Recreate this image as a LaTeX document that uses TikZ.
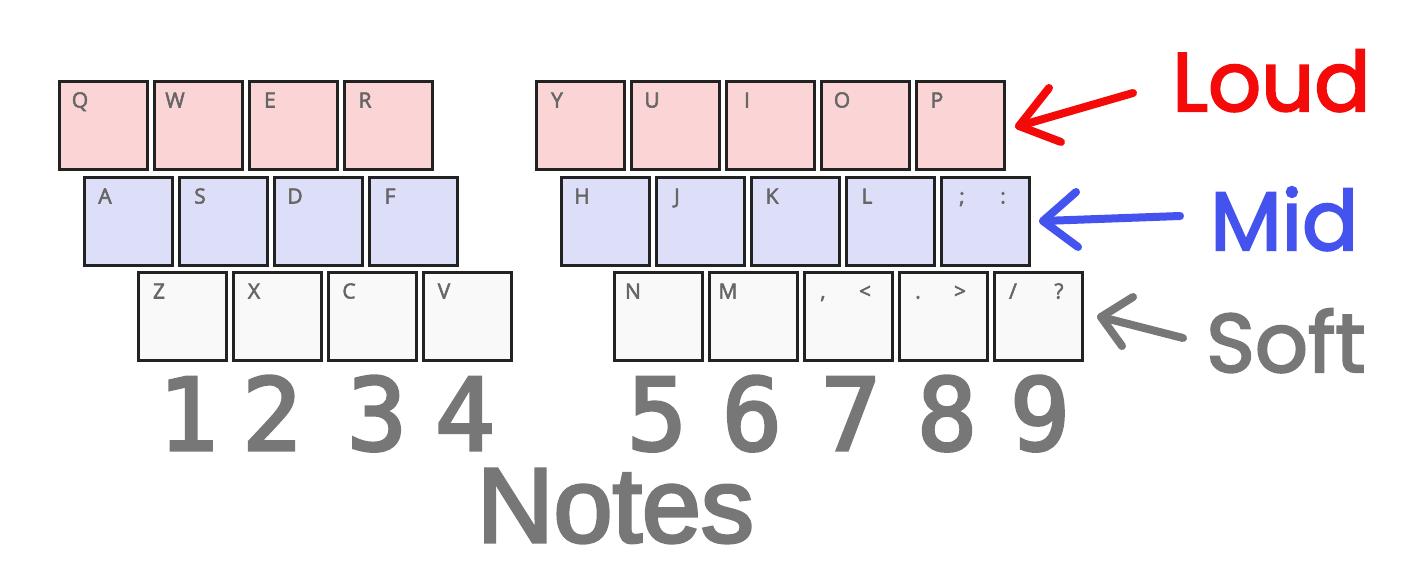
\documentclass[tikz,border=0pt]{standalone}
\usepackage{fontspec}
\newfontfamily\keyfont{Open Sans}[FakeBold=2.5]
\newfontfamily\popfont{Poppins}[FakeBold=2.5]
\newfontfamily\digitfont{DejaVu Sans Mono}[FakeBold=3]
\newfontfamily\notefont{Liberation Sans}[FakeBold=3]
\definecolor{loudfill}{HTML}{FBD5D6}
\definecolor{midfill}{HTML}{DDDFF9}
\definecolor{softfill}{HTML}{F9F9F9}
\definecolor{keyedge}{HTML}{222222}
\definecolor{lblgray}{HTML}{666666}
\definecolor{loudred}{HTML}{F50A0A}
\definecolor{midblue}{HTML}{4453EE}
\definecolor{softgray}{HTML}{777777}
\tikzset{
  keybox/.style={draw=keyedge, line width=3pt, minimum size=88pt, inner sep=0pt, rectangle},
  lbl/.style={font=\keyfont\fontsize{21}{21}\selectfont, text=lblgray, inner sep=0pt, anchor=base},
  bigdigit/.style={font=\digitfont\fontsize{100}{100}\selectfont, text=softgray, inner sep=0pt, anchor=base},
  tag/.style={font=\popfont\fontsize{83}{83}\selectfont, inner sep=0pt, anchor=base west},
  pointer/.style={line width=8pt, line cap=round, line join=round},
}
\begin{document}
\begin{tikzpicture}[x=1pt,y=-1pt]
\useasboundingbox (0,0) rectangle (1403,581);
\fill[white] (0,0) rectangle (1403,581);
% left half
\foreach \n/\l [count=\i from 0] in {q/Q,w/W,e/E,r/R}{
  \node[keybox, fill=loudfill] (\n) at (103.5+95*\i,125.5) {};
  \node[lbl] (\n l) at ([shift={(22,27.5)}]\n.north west) {\l};}
\foreach \n/\l [count=\i from 0] in {a/A,s/S,d/D,f/F}{
  \node[keybox, fill=midfill] (\n) at (128.5+95*\i,221.5) {};
  \node[lbl] (\n l) at ([shift={(22,27.5)}]\n.north west) {\l};}
\foreach \n/\l [count=\i from 0] in {z/Z,x/X,c/C,v/V}{
  \node[keybox, fill=softfill] (\n) at (182.5+95*\i,316.5) {};
  \node[lbl] (\n l) at ([shift={(22,27.5)}]\n.north west) {\l};}
% right half
\foreach \n/\l [count=\i from 0] in {y/Y,u/U,i/I,o/O,p/P}{
  \node[keybox, fill=loudfill] (\n) at (580.5+95*\i,125.5) {};
  \node[lbl] (\n l) at ([shift={(22,27.5)}]\n.north west) {\l};}
\foreach \n/\l [count=\i from 0] in {h/H,j/J,k/K,l/L,semi/;}{
  \node[keybox, fill=midfill] (\n) at (605.5+95*\i,221.5) {};
  \node[lbl] (\n l) at ([shift={(22,27.5)}]\n.north west) {\l};}
\node[lbl] (semi l2) at ([shift={(63,27.5)}]semi.north west) {:};
\foreach \n/\l [count=\i from 0] in {n/N,m/M,comma/{,},dot/.,slash/{/}}{
  \node[keybox, fill=softfill] (\n) at (658.5+95*\i,316.5) {};
  \node[lbl] (\n l) at ([shift={(20,27.5)}]\n.north west) {\l};}
\node[lbl] (comma l2) at ([shift={(62,27.5)}]comma.north west) {<};
\node[lbl] (dot l2) at ([shift={(62,27.5)}]dot.north west) {>};
\node[lbl] (slash l2) at ([shift={(66,27.5)}]slash.north west) {?};
% digits
\foreach \d/\xx in {1/188,2/272,3/377,4/465,5/657,6/752,7/851,8/947,9/1040}{
  \node[bigdigit] (d\d) at (\xx,450) {\d};}
\node[font=\notefont\fontsize{106}{106}\selectfont, text=softgray, inner sep=0pt, anchor=base] (notes) at (615.5,542) {Notes};
% tags
\node[tag, text=loudred] (loud) at (1172,111) {Loud};
\node[tag, text=midblue] (mid) at (1210,250) {Mid};
\node[tag, text=softgray] (soft) at (1206,372) {Soft};
% arrows
\coordinate (lt) at (1133,93); \coordinate (lh) at (1019,126);
\coordinate (lb1) at (1049,88); \coordinate (lb2) at (1061,142);
\draw[pointer, draw=loudred] (lt) -- (lh);
\draw[pointer, draw=loudred] (lb1) -- (lh) -- (lb2);
\coordinate (mt) at (1180,216); \coordinate (mh) at (1043,221);
\coordinate (mb1) at (1076,192); \coordinate (mb2) at (1078,247);
\draw[pointer, draw=midblue] (mt) -- (mh);
\draw[pointer, draw=midblue] (mb1) -- (mh) -- (mb2);
\coordinate (st) at (1183,338); \coordinate (sh) at (1101,317);
\coordinate (sb1) at (1133,297); \coordinate (sb2) at (1122,346);
\draw[pointer, draw=softgray] (st) -- (sh);
\draw[pointer, draw=softgray] (sb1) -- (sh) -- (sb2);
\end{tikzpicture}
\end{document}
